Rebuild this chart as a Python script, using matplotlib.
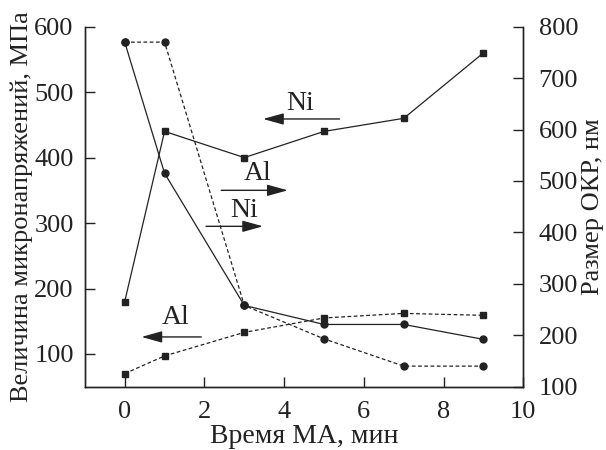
import matplotlib
matplotlib.use("Agg")
import matplotlib.pyplot as plt

plt.rcParams['font.family'] = ['Liberation Serif', 'DejaVu Serif']

# time of mechanical activation, min
time_min = [0, 1, 3, 5, 7, 9]

# microstress, MPa (left axis, squares)
ni_stress = [180, 440, 400, 440, 460, 560]
al_stress = [70, 97, 133, 155, 162, 159]

# crystallite size, nm (right axis, circles)
ni_size = [770, 515, 258, 221, 221, 192]
al_size = [770, 770, 258, 193, 140, 140]

x_ticks = [0, 2, 4, 6, 8, 10]
left_ticks = [100, 200, 300, 400, 500, 600]
right_ticks = [100, 200, 300, 400, 500, 600, 700, 800]

col = '#222222'
fs = 19

fig = plt.figure(figsize=(6.06, 4.5), dpi=100)
ax = fig.add_axes([0.140, 0.1407, 0.7236, 0.80])
ax2 = ax.twinx()

ax.plot(time_min, ni_stress, '-', color=col, lw=0.9, marker='s', ms=5)
ax.plot(time_min, al_stress, '--', color=col, lw=0.9, marker='s', ms=5, dashes=(3, 2))
ax2.plot(time_min, ni_size, '-', color=col, lw=0.9, marker='o', ms=5)
ax2.plot(time_min, al_size, '--', color=col, lw=0.9, marker='o', ms=5, dashes=(3, 2))

ax.set_xlim(-1, 10)
ax.set_ylim(50, 600)
ax2.set_ylim(100, 800)

ax.set_xticks(x_ticks)
ax.set_yticks(left_ticks)
ax2.set_yticks(right_ticks)

for a in (ax, ax2):
    a.spines['top'].set_visible(False)
    for s in a.spines.values():
        s.set_color(col)
        s.set_linewidth(1.0)
    a.tick_params(direction='in', length=7, width=1, colors=col, labelsize=fs,
                  labelcolor=col, pad=8)
ax.tick_params(axis='x', pad=10)
ax2.tick_params(axis='y', pad=11)

ax.set_xlabel('Время МА, мин', fontsize=20, color=col, labelpad=1)
ax.set_ylabel('Величина микронапряжений, МПа', fontsize=fs, color=col, labelpad=1)
ax2.set_ylabel('Размер ОКР, нм', fontsize=fs, color=col, labelpad=3)

# narrow filled arrow heads like in the original figure
arrow = dict(arrowstyle='-|>,head_length=0.9,head_width=0.25', color=col, lw=1.0,
             mutation_scale=14, shrinkA=0, shrinkB=0)
afs = 20

# Ni -> left axis
ax.annotate('', xy=(3.47, 459), xytext=(5.39, 459), arrowprops=arrow)
ax.text(4.39, 482, 'Ni', fontsize=afs, color=col, ha='center', va='center')
# Al -> right axis
ax.annotate('', xy=(4.09, 350), xytext=(2.42, 350), arrowprops=arrow)
ax.text(3.34, 376, 'Al', fontsize=afs, color=col, ha='center', va='center')
# Ni -> right axis
ax.annotate('', xy=(3.47, 295), xytext=(2.04, 295), arrowprops=arrow)
ax.text(3.0, 319, 'Ni', fontsize=afs, color=col, ha='center', va='center')
# Al -> left axis
ax.annotate('', xy=(0.42, 126), xytext=(1.92, 126), arrowprops=arrow)
ax.text(1.27, 155, 'Al', fontsize=afs, color=col, ha='center', va='center')

fig.savefig('out.png', dpi=100)
